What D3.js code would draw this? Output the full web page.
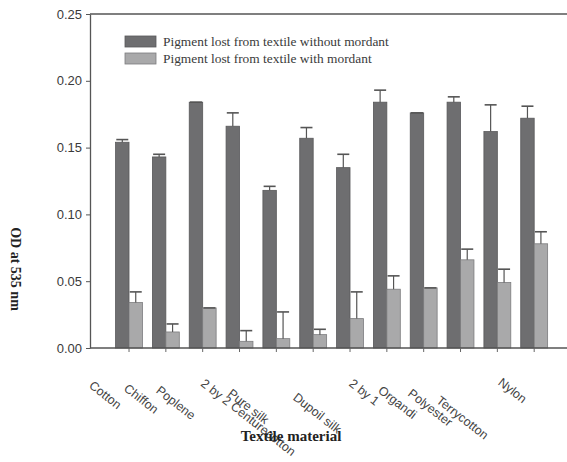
<!DOCTYPE html>
<html>
<head>
<meta charset="utf-8">
<script src="https://cdn.jsdelivr.net/npm/d3@7"></script>
<style>
  body { margin: 0; background: #fff; }
</style>
</head>
<body>
<svg id="chart" width="567" height="462"></svg>
<script>
// values (OD at 535 nm)
const groups = d3.range(12);
const withoutMordant = [0.154, 0.143, 0.184, 0.166, 0.118, 0.157, 0.135, 0.184, 0.176, 0.184, 0.162, 0.172];
const withoutErr     = [0.002, 0.002, 0.000, 0.010, 0.003, 0.008, 0.010, 0.009, 0.000, 0.004, 0.020, 0.009];
const withMordant    = [0.034, 0.012, 0.030, 0.005, 0.007, 0.010, 0.022, 0.044, 0.045, 0.066, 0.049, 0.078];
const withErr        = [0.008, 0.006, 0.000, 0.008, 0.020, 0.004, 0.020, 0.010, 0.000, 0.008, 0.010, 0.009];
const seriesNames = ['Pigment lost from textile without mordant', 'Pigment lost from textile with mordant'];
const tickLabels = ['Cotton', 'Chiffon', 'Poplene', '2 by 2 Centurecotton', 'Pure silk', 'Dupoil silk',
  '2 by 1', 'Organdi', 'Polyester', 'Terrycotton', 'Nylon'];
const yTicks = [0, 0.05, 0.10, 0.15, 0.20, 0.25];

// where the (misaligned) labels sit, in category units, and how far below the axis
const labelAt   = [-1.11, -0.16, 0.71, 1.93, 2.66, 4.43, 5.95, 6.74, 7.55, 8.32, 10.0];
const labelDrop = [39, 42, 44, 37, 47, 51, 37, 44, 47, 54, 36];

const svg = d3.select('#chart');
const plotLeft = 90, plotRight = 567, plotTop = 14, plotBottom = 348;
const darkFill = '#6e6e70', lightFill = '#a9a9aa';

const x = d3.scaleBand()
  .domain(groups)
  .range([110.6, 552.6])
  .paddingInner(0.27)
  .paddingOuter(0.135);
const xSub = d3.scaleBand()
  .domain([0, 1])
  .range([0, x.bandwidth()]);
const y = d3.scaleLinear()
  .domain([0, 0.25])
  .range([plotBottom, plotTop]);
const xLab = d3.scaleLinear()
  .domain([0, 11])
  .range([x(0) + x.bandwidth() / 2, x(11) + x.bandwidth() / 2]);

// top frame line
svg.append('line')
  .attr('x1', plotLeft).attr('x2', plotRight)
  .attr('y1', plotTop).attr('y2', plotTop)
  .attr('stroke', '#555').attr('stroke-width', 1.3);

/****************** bars ******************/
const series = [
  { vals: withoutMordant, err: withoutErr, fill: darkFill, stroke: '#58585a' },
  { vals: withMordant, err: withErr, fill: lightFill, stroke: '#7c7c7e' },
];

series.forEach((s, si) => {
  const g = svg.append('g');
  g.selectAll('rect')
    .data(groups)
    .join('rect')
    .attr('x', d => x(d) + xSub(si))
    .attr('y', d => y(s.vals[d]))
    .attr('width', xSub.bandwidth())
    .attr('height', d => y(0) - y(s.vals[d]))
    .attr('fill', s.fill)
    .attr('stroke', s.stroke)
    .attr('stroke-width', 0.8);

  // error bars, upper half only
  g.selectAll('line.err')
    .data(groups)
    .join('line')
    .attr('class', 'err')
    .attr('x1', d => x(d) + xSub(si) + xSub.bandwidth() / 2)
    .attr('x2', d => x(d) + xSub(si) + xSub.bandwidth() / 2)
    .attr('y1', d => y(s.vals[d]))
    .attr('y2', d => y(s.vals[d] + s.err[d]))
    .attr('stroke', '#555')
    .attr('stroke-width', 1.2);
  g.selectAll('line.cap')
    .data(groups)
    .join('line')
    .attr('class', 'cap')
    .attr('x1', d => x(d) + xSub(si) + xSub.bandwidth() / 2 - 6)
    .attr('x2', d => x(d) + xSub(si) + xSub.bandwidth() / 2 + 6)
    .attr('y1', d => y(s.vals[d] + s.err[d]))
    .attr('y2', d => y(s.vals[d] + s.err[d]))
    .attr('stroke', '#555')
    .attr('stroke-width', 1.6);
});

/****************** axes ******************/
const yAxis = svg.append('g')
  .attr('transform', `translate(${plotLeft},0)`)
  .call(d3.axisLeft(y).tickValues(yTicks).tickFormat(d3.format('.2f')).tickSize(4).tickSizeOuter(0));
yAxis.select('.domain').attr('stroke', '#555').attr('stroke-width', 1.3);
yAxis.selectAll('.tick line').attr('stroke', '#555');
yAxis.selectAll('.tick text')
  .attr('x', -8)
  .attr('font-family', 'Liberation Sans, Arial, sans-serif')
  .attr('font-size', '13px')
  .attr('fill', '#3a3a3a');

svg.append('line')
  .attr('x1', plotLeft).attr('x2', plotRight)
  .attr('y1', plotBottom).attr('y2', plotBottom)
  .attr('stroke', '#555').attr('stroke-width', 1.3);

svg.append('g').selectAll('line')
  .data(groups)
  .join('line')
  .attr('x1', d => x(d) + x.bandwidth() / 2)
  .attr('x2', d => x(d) + x.bandwidth() / 2)
  .attr('y1', plotBottom)
  .attr('y2', plotBottom + 4)
  .attr('stroke', '#666');

svg.append('g').selectAll('text')
  .data(tickLabels)
  .join('text')
  .text(d => d)
  .attr('transform', (d, i) => `translate(${xLab(labelAt[i])},${plotBottom + labelDrop[i]}) rotate(38)`)
  .attr('text-anchor', 'start')
  .attr('font-family', 'Liberation Sans, Arial, sans-serif')
  .attr('font-size', '12.5px')
  .attr('fill', '#444');

// axis titles
svg.append('text')
  .text('OD at 535 nm')
  .attr('transform', 'translate(11,269) rotate(90)')
  .attr('text-anchor', 'middle')
  .attr('font-family', 'Liberation Serif, Times New Roman, serif')
  .attr('font-weight', 'bold')
  .attr('font-size', '14px')
  .attr('fill', '#222');

svg.append('text')
  .text('Textile material')
  .attr('x', 291)
  .attr('y', 441)
  .attr('text-anchor', 'middle')
  .attr('font-family', 'Liberation Serif, Times New Roman, serif')
  .attr('font-weight', 'bold')
  .attr('font-size', '15px')
  .attr('fill', '#222');

/****************** legend ******************/
const legend = svg.append('g').attr('transform', 'translate(125,36)');
legend.selectAll('rect')
  .data(series)
  .join('rect')
  .attr('x', 0)
  .attr('y', (d, i) => i * 17)
  .attr('width', 31)
  .attr('height', 11)
  .attr('fill', d => d.fill)
  .attr('stroke', d => d.stroke)
  .attr('stroke-width', 0.8);
legend.selectAll('text')
  .data(seriesNames)
  .join('text')
  .text(d => d)
  .attr('x', 38)
  .attr('y', (d, i) => 10 + i * 17)
  .attr('font-family', 'Liberation Serif, Times New Roman, serif')
  .attr('font-size', '13.4px')
  .attr('fill', '#3a3a3a');
</script>
</body>
</html>
